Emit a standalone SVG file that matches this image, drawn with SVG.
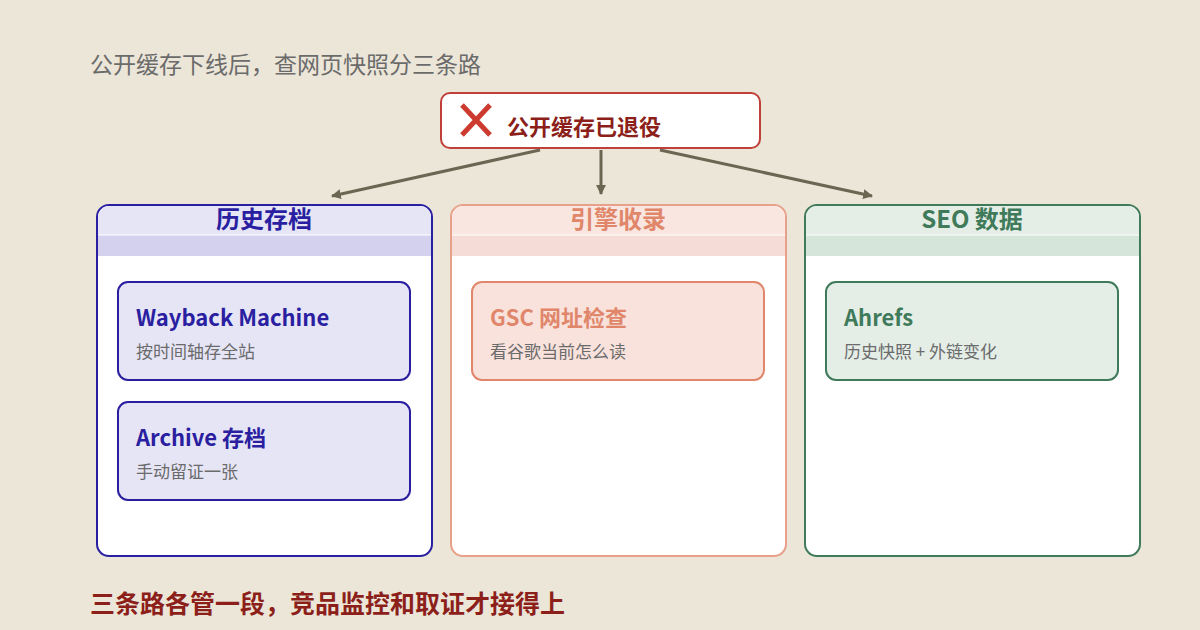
<svg xmlns="http://www.w3.org/2000/svg" width="1200" height="630" viewBox="0 0 1200 630">
<style>
text{font-family:"Noto Sans CJK SC","Noto Sans",sans-serif}
.t{font-size:24px;font-weight:700;text-anchor:middle}
.h{font-size:22px;font-weight:700}
.s{font-size:17px;fill:#6b6b6b}
.conn{stroke:#6b6552;stroke-width:3;fill:none;marker-end:url(#a)}
</style>
<defs><marker id="a" viewBox="0 0 10 10" refX="9" refY="5" markerWidth="3.3" markerHeight="3.3" orient="auto"><path d="M0,0L10,5L0,10z" fill="#6b6552"/></marker></defs>
<rect width="1200" height="630" fill="#ebe6d8"/>
<text x="90" y="73" font-size="23" fill="#6b6b6b">公开缓存下线后，查网页快照分三条路</text>
<g id="top">
<rect x="441" y="93" width="319" height="55" rx="9" fill="#fff" stroke="#c0403a" stroke-width="2"/>
<path d="M462,105L490,135M490,105L462,135" stroke="#cc3a30" stroke-width="5"/>
<text x="507" y="135" font-size="22" font-weight="700" fill="#8c1f1a">公开缓存已退役</text>
</g>
<g id="connectors">
<line x1="540" y1="150" x2="332" y2="196" class="conn"/>
<line x1="601" y1="150" x2="601" y2="194" class="conn"/>
<line x1="660" y1="150" x2="872" y2="196" class="conn"/>
</g>
<g id="col1">
<rect x="97" y="205" width="335" height="351" rx="12" fill="#fff" stroke="#2a1fa0" stroke-width="2"/>
<path d="M98,235H431V256H98z" fill="#d3d1ee"/>
<path d="M98,235V217a11,11 0 0 1 11-11H420a11,11 0 0 1 11,11V235z" fill="#e6e5f6"/>
<line x1="98" y1="235" x2="431" y2="235" stroke="#fff"/>
<text x="264" y="228" class="t" fill="#2a1fa0">历史存档</text>
</g>
<g id="col2">
<rect x="451" y="205" width="335" height="351" rx="12" fill="#fff" stroke="#e8a08a" stroke-width="2"/>
<path d="M452,235H785V256H452z" fill="#f6dcd6"/>
<path d="M452,235V217a11,11 0 0 1 11-11H774a11,11 0 0 1 11,11V235z" fill="#f9e6e1"/>
<line x1="452" y1="235" x2="785" y2="235" stroke="#fff"/>
<text x="618" y="228" class="t" fill="#e0866a">引擎收录</text>
</g>
<g id="col3">
<rect x="805" y="205" width="335" height="351" rx="12" fill="#fff" stroke="#3f7a5a" stroke-width="2"/>
<path d="M806,235H1139V256H806z" fill="#d5e5da"/>
<path d="M806,235V217a11,11 0 0 1 11-11H1128a11,11 0 0 1 11,11V235z" fill="#e4eee7"/>
<line x1="806" y1="235" x2="1139" y2="235" stroke="#fff"/>
<text x="972" y="228" class="t" fill="#3f7a5a">SEO 数据</text>
</g>
<g id="n1">
<rect x="118" y="282" width="292" height="98" rx="10" fill="#e6e5f6" stroke="#2a1fa0" stroke-width="2"/>
<text x="136" y="326" class="h" fill="#2a1fa0">Wayback Machine</text>
<text x="136" y="358" class="s">按时间轴存全站</text>
</g>
<g id="n2">
<rect x="118" y="402" width="292" height="98" rx="10" fill="#e6e5f6" stroke="#2a1fa0" stroke-width="2"/>
<text x="136" y="446" class="h" fill="#2a1fa0">Archive 存档</text>
<text x="136" y="478" class="s">手动留证一张</text>
</g>
<g id="n3">
<rect x="472" y="282" width="292" height="98" rx="10" fill="#f9e2dc" stroke="#e0866a" stroke-width="2"/>
<text x="490" y="326" class="h" fill="#e0866a">GSC 网址检查</text>
<text x="490" y="358" class="s">看谷歌当前怎么读</text>
</g>
<g id="n4">
<rect x="826" y="282" width="292" height="98" rx="10" fill="#e4eee7" stroke="#3f7a5a" stroke-width="2"/>
<text x="844" y="326" class="h" fill="#3f7a5a">Ahrefs</text>
<text x="844" y="358" class="s">历史快照 + 外链变化</text>
</g>
<text x="90" y="613" font-size="25" font-weight="700" fill="#8c1f1a">三条路各管一段，竞品监控和取证才接得上</text>
</svg>
